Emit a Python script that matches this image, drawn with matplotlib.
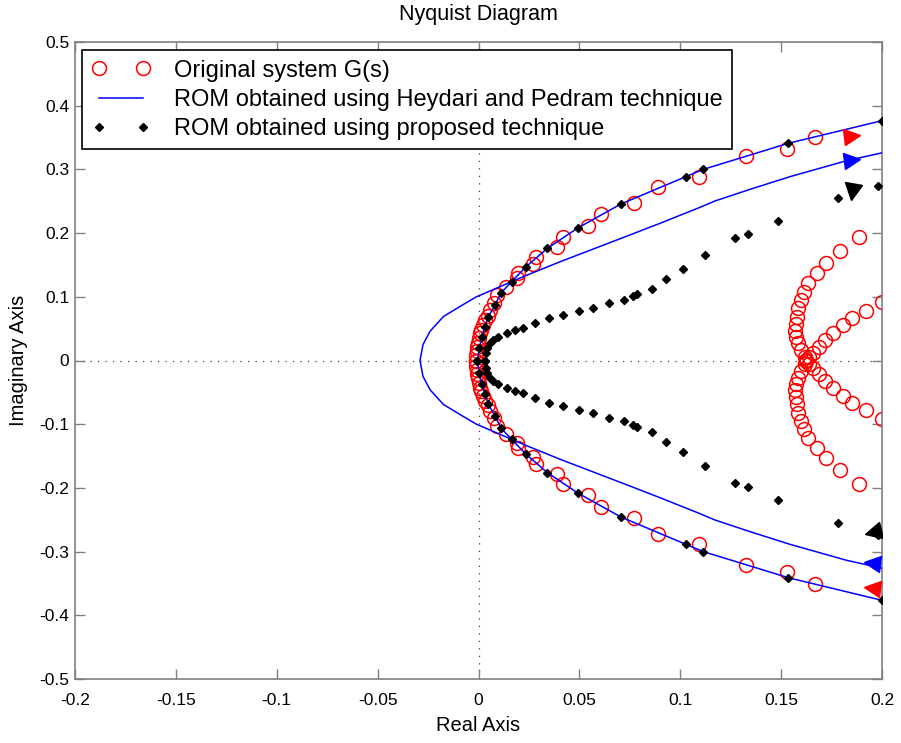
import numpy as np
import matplotlib
matplotlib.use("Agg")
from matplotlib import pyplot as plt
from matplotlib.markers import MarkerStyle
from matplotlib.transforms import Affine2D

plt.rcParams['font.family'] = ['Liberation Sans', 'DejaVu Sans']

# Upper half of each curve; lower half is the conjugate branch
# Original system G(s) - outer branch
red_x = [0.1668, 0.1531, 0.1324, 0.1095, 0.0891, 0.0772, 0.0607, 0.0541, 0.042, 0.0388,
         0.0285, 0.0269, 0.0197, 0.0189, 0.0136, 0.009, 0.0075, 0.0057, 0.0045, 0.0032,
         0.0022, 0.0014, 0.0007, 0.0002, -0.0003, -0.0006, -0.0009, -0.0011, -0.0012]
red_y = [0.351, 0.332, 0.321, 0.2876, 0.272, 0.248, 0.2295, 0.2116, 0.1934, 0.1787,
         0.163, 0.1515, 0.138, 0.129, 0.115, 0.103, 0.09, 0.079, 0.07, 0.0636,
         0.055, 0.048, 0.0427, 0.035, 0.028, 0.0217, 0.015, 0.008, 0.0]

# G(s) loop near 0.16 (two arcs)
loopr_x = [0.1998, 0.192, 0.185, 0.1805, 0.1757, 0.1717, 0.1688, 0.1658, 0.164, 0.1625]
loopr_y = [0.092, 0.077, 0.067, 0.056, 0.0436, 0.032, 0.0217, 0.0117, 0.006, 0.0015]
loopl_x = [0.1886, 0.179, 0.172, 0.1676, 0.1634, 0.1613, 0.160, 0.1585, 0.1577, 0.1572,
           0.157, 0.1574, 0.1585, 0.160, 0.1618]
loopl_y = [0.194, 0.172, 0.153, 0.137, 0.122, 0.108, 0.095, 0.082, 0.069, 0.057,
           0.047, 0.037, 0.027, 0.0165, 0.006]

# outer branch (blue line, black points)
outer_x = [0.2, 0.1536, 0.1114, 0.1028, 0.0706, 0.0492, 0.0341, 0.0235, 0.0164, 0.011,
           0.0082, 0.0049, 0.0032, 0.0016, 0.0004, -0.0006]
outer_y = [0.3765, 0.341, 0.300, 0.2886, 0.2457, 0.208, 0.176, 0.147, 0.1237, 0.1055,
           0.087, 0.069, 0.053, 0.037, 0.019, 0.0]

# ROM Heydari and Pedram
blue_x = [0.2, 0.1825, 0.1544, 0.1346, 0.1172, 0.1098, 0.09, 0.075, 0.0577, 0.0404,
          0.0222, 0.0107, -0.001, -0.0075, -0.0174, -0.024, -0.0275, -0.029]
blue_y = [0.326, 0.3137, 0.2886, 0.2687, 0.2504, 0.2405, 0.2154, 0.197, 0.176, 0.155,
          0.1316, 0.116, 0.100, 0.088, 0.069, 0.046, 0.025, 0.0]

# ROM proposed technique (inner branch)
black_x = [0.0032, 0.0037, 0.0044, 0.0057, 0.0073, 0.0098, 0.014, 0.018, 0.0222, 0.028,
           0.035, 0.042, 0.0498, 0.0569, 0.0647, 0.0721, 0.0764, 0.0787, 0.0858, 0.0929,
           0.1012, 0.1123, 0.1271, 0.1334, 0.1483, 0.178, 0.1982]
black_y = [0.0, 0.011, 0.019, 0.027, 0.032, 0.037, 0.0427, 0.048, 0.0515, 0.0594,
           0.066, 0.0714, 0.078, 0.083, 0.0898, 0.095, 0.101, 0.104, 0.113, 0.1275,
           0.1436, 0.1656, 0.192, 0.1986, 0.2195, 0.2546, 0.274]

# direction arrows (upper, lower)
arrow_x = [0.1853, 0.1853, 0.185, 0.1949, 0.1949, 0.1954]
arrow_y = [0.3524, 0.3148, 0.265, -0.3576, -0.3184, -0.2687]
arrow_c = ['red', 'blue', 'black', 'red', 'blue', 'black']

xticks = [-0.2, -0.15, -0.1, -0.05, 0, 0.05, 0.1, 0.15, 0.2]
xtick_labels = ['-0.2', '-0.15', '-0.1', '-0.05', '0', '0.05', '0.1', '0.15', '0.2']
yticks = [-0.5, -0.4, -0.3, -0.2, -0.1, 0, 0.1, 0.2, 0.3, 0.4, 0.5]
ytick_labels = ['-0.5', '-0.4', '-0.3', '-0.2', '-0.1', '0', '0.1', '0.2', '0.3', '0.4', '0.5']

labels = ['Original system G(s)',
          'ROM obtained using Heydari and Pedram technique',
          'ROM obtained using proposed technique']


def both(xs, ys):
    # add the conjugate (negative frequency) branch
    x = np.array(xs)
    y = np.array(ys)
    return np.concatenate([x, x[::-1]]), np.concatenate([y, -y[::-1]])


fig = plt.figure(figsize=(9.01, 7.43), dpi=100)
ax = fig.add_axes([75 / 901, 1 - 679 / 743, 807 / 901, 637 / 743])

ax.axhline(0, color='#404040', ls=(0, (1, 5)), lw=0.9, zorder=1)
ax.axvline(0, color='#404040', ls=(0, (1, 5)), lw=0.9, zorder=1)

circ = dict(ls='none', marker='o', ms=10, mfc='none', mec='red', mew=1.1, zorder=2)
x, y = both(red_x, red_y)
h_red, = ax.plot(x, y, **circ)
for lx, ly in [(loopr_x, loopr_y), (loopl_x, loopl_y)]:
    x, y = both(lx, ly)
    ax.plot(x, y, **circ)

x, y = both(outer_x, outer_y)
ax.plot(x, y, color='blue', lw=1.1, zorder=3)
ax.plot(x, y, ls='none', marker='D', ms=4.2, color='black', zorder=4)

x, y = both(blue_x, blue_y)
h_blue, = ax.plot(x, y, color='blue', lw=1.1, zorder=3)

x, y = both(black_x, black_y)
h_black, = ax.plot(x, y, ls='none', marker='D', ms=4.2, color='black', zorder=4)

rots = [8, 8, -100, -8, -8, 15]
bases = ['>', '>', '>', '<', '<', '<']
for ax_, ay_, c, b, r in zip(arrow_x, arrow_y, arrow_c, bases, rots):
    m = MarkerStyle(b, transform=Affine2D().rotate_deg(r))
    ax.plot([ax_], [ay_], ls='none', marker=m, ms=12, color=c, zorder=5)

ax.set_xlim(-0.2, 0.2)
ax.set_ylim(-0.5, 0.5)
ax.set_xticks(xticks)
ax.set_xticklabels(xtick_labels)
ax.set_yticks(yticks)
ax.set_yticklabels(ytick_labels)
ax.tick_params(direction='in', length=7, width=1, color='#808080', top=True, right=True,
               labelsize=12.5)
ax.tick_params(axis='x', pad=10)
ax.tick_params(axis='y', pad=4)
for s in ax.spines.values():
    s.set_color('#808080')
    s.set_linewidth(1.2)

ax.set_title('Nyquist Diagram', fontsize=15.5, pad=16)
ax.set_xlabel('Real Axis', fontsize=14.5, labelpad=6)
ax.set_ylabel('Imaginary Axis', fontsize=14.5, labelpad=8)

leg = ax.legend([h_red, h_blue, h_black], labels, loc='upper left',
                bbox_to_anchor=(0.0087, 0.987), borderaxespad=0, numpoints=2,
                fontsize=17, handlelength=2.5, handletextpad=1.0, borderpad=0.4,
                labelspacing=0.3, fancybox=False, edgecolor='black', framealpha=1)
leg.get_frame().set_linewidth(1.2)

fig.savefig('out.png', dpi=100)
